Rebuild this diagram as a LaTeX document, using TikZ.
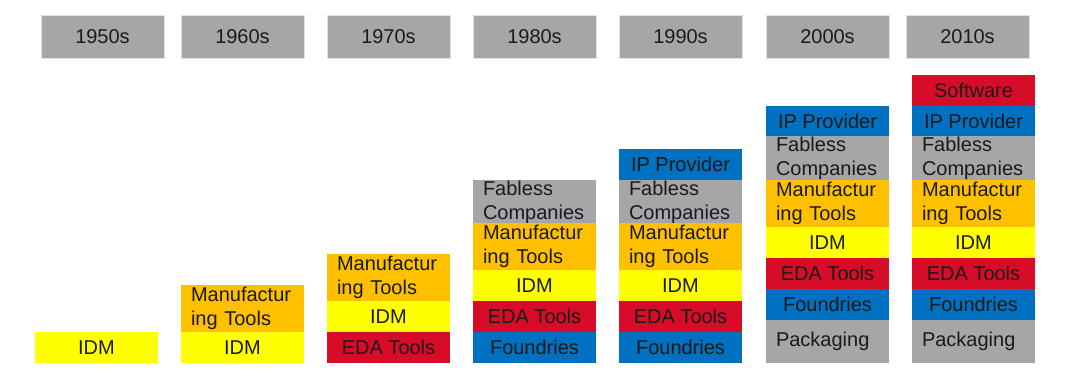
\documentclass[tikz,border=0pt]{standalone}
\usepackage{fontspec}
\setmainfont{Liberation Sans}
\definecolor{hdrgray}{HTML}{A6A6A6}
\definecolor{cyel}{HTML}{FFFF00}
\definecolor{corange}{HTML}{FFC000}
\definecolor{cred}{HTML}{D70C28}
\definecolor{cblue}{HTML}{0070C0}
\definecolor{cgray}{HTML}{A6A6A6}
\definecolor{txt}{HTML}{1A1A1A}
\tikzset{
  x=1pt, y=-1pt,
  blk/.style={rectangle, anchor=north west, minimum width=123pt, inner sep=0pt,
    text=txt, font=\fontsize{20}{24}\selectfont, outer sep=0pt},
  hdr/.style={blk, fill=hdrgray, draw=black!12, line width=0.8pt, minimum height=43pt},
  one/.style={blk, minimum height=31pt},
  two/.style={blk, minimum height=#1, text width=103pt, inner xsep=10pt, align=left},
  two/.default=45pt,
  idm/.style={one, fill=cyel},
  eda/.style={one, fill=cred},
  fdy/.style={one, fill=cblue},
  ipp/.style={one, fill=cblue},
  sw/.style={one, fill=cred},
  mfg/.style={two=47pt, fill=corange},
  fab/.style={two=44pt, fill=cgray},
  pkg/.style={two=43pt, fill=cgray},
}
\newcommand{\mfgtext}{Manufactur\\ing Tools}
\newcommand{\fabtext}{Fabless\\Companies}
\begin{document}
\begin{tikzpicture}
\useasboundingbox[fill=white] (0,0) rectangle (1068,383);
% headers
\node[hdr] (h1) at (41,15) {1950s};
\node[hdr] (h2) at (181,15) {1960s};
\node[hdr] (h3) at (327,15) {1970s};
\node[hdr] (h4) at (473,15) {1980s};
\node[hdr] (h5) at (619,15) {1990s};
\node[hdr] (h6) at (766,15) {2000s};
\node[hdr] (h7) at (906,15) {2010s};
% 1950s
\node[idm] (a1) at (35,332) {IDM};
% 1960s
\node[mfg] (b2) at (181,285) {\mfgtext};
\node[idm] (b1) at (181,332) {IDM};
% 1970s
\node[mfg] (c3) at (327,254) {\mfgtext};
\node[idm] (c2) at (327,301) {IDM};
\node[eda] (c1) at (327,332) {EDA Tools};
% 1980s
\node[fab] (d5) at (473,180) {\fabtext};
\node[mfg] (d4) at (473,223) {\mfgtext};
\node[idm] (d3) at (473,270) {IDM};
\node[eda] (d2) at (473,301) {EDA Tools};
\node[fdy] (d1) at (473,332) {Foundries};
% 1990s
\node[ipp] (e6) at (619,149) {IP Provider};
\node[fab] (e5) at (619,180) {\fabtext};
\node[mfg] (e4) at (619,223) {\mfgtext};
\node[idm] (e3) at (619,270) {IDM};
\node[eda] (e2) at (619,301) {EDA Tools};
\node[fdy] (e1) at (619,332) {Foundries};
% 2000s
\node[ipp] (f7) at (766,106) {IP Provider};
\node[fab] (f6) at (766,136) {\fabtext};
\node[mfg] (f5) at (766,180) {\mfgtext};
\node[idm] (f4) at (766,227) {IDM};
\node[eda] (f3) at (766,258) {EDA Tools};
\node[fdy] (f2) at (766,289) {Foundries};
\node[pkg] (f1) at (766,320) {Packaging};
% 2010s
\node[sw]  (g8) at (912,75) {Software};
\node[ipp] (g7) at (912,106) {IP Provider};
\node[fab] (g6) at (912,136) {\fabtext};
\node[mfg] (g5) at (912,180) {\mfgtext};
\node[idm] (g4) at (912,227) {IDM};
\node[eda] (g3) at (912,258) {EDA Tools};
\node[fdy] (g2) at (912,289) {Foundries};
\node[pkg] (g1) at (912,320) {Packaging};
\end{tikzpicture}
\end{document}
